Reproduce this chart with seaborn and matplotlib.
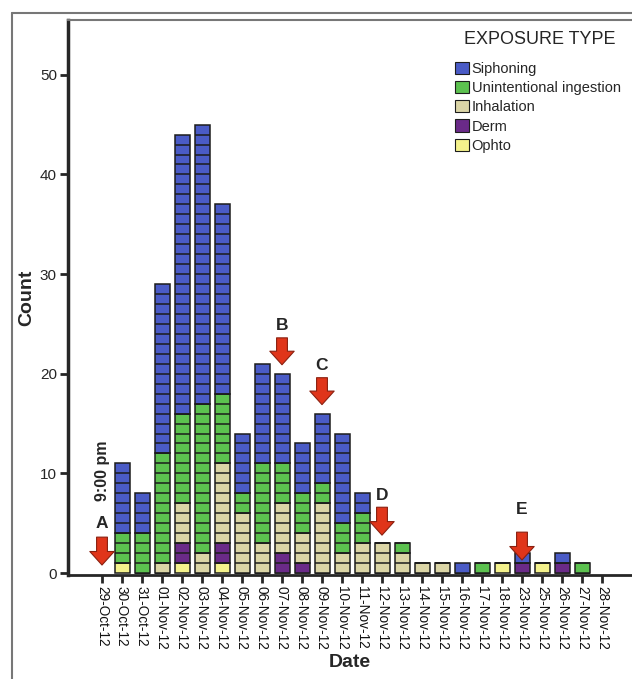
import numpy as np
import pandas as pd
import matplotlib
matplotlib.use("Agg")
import matplotlib.pyplot as plt
from matplotlib.patches import Patch
from matplotlib.lines import Line2D
import seaborn as sns

dates = ['29-Oct-12', '30-Oct-12', '31-Oct-12', '01-Nov-12', '02-Nov-12', '03-Nov-12',
         '04-Nov-12', '05-Nov-12', '06-Nov-12', '07-Nov-12', '08-Nov-12', '09-Nov-12',
         '10-Nov-12', '11-Nov-12', '12-Nov-12', '13-Nov-12', '14-Nov-12', '15-Nov-12',
         '16-Nov-12', '17-Nov-12', '18-Nov-12', '23-Nov-12', '25-Nov-12', '26-Nov-12',
         '27-Nov-12', '28-Nov-12']

siphoning     = [0, 7, 4, 17, 28, 28, 19, 6, 10, 9, 5, 7, 9, 2, 0, 0, 0, 0, 1, 0, 0, 1, 0, 1, 0, 0]
unintentional = [0, 3, 4, 11, 9, 15, 7, 2, 8, 4, 4, 2, 3, 3, 0, 1, 0, 0, 0, 1, 0, 0, 0, 0, 1, 0]
inhalation    = [0, 0, 0, 1, 4, 2, 8, 6, 3, 5, 3, 7, 2, 3, 3, 2, 1, 1, 0, 0, 0, 0, 0, 0, 0, 0]
derm          = [0, 0, 0, 0, 2, 0, 2, 0, 0, 2, 1, 0, 0, 0, 0, 0, 0, 0, 0, 0, 0, 1, 0, 1, 0, 0]
ophto         = [0, 1, 0, 0, 1, 0, 1, 0, 0, 0, 0, 0, 0, 0, 0, 0, 0, 0, 0, 0, 1, 0, 1, 0, 0, 0]

types = ['Siphoning', 'Unintentional ingestion', 'Inhalation', 'Derm', 'Ophto']
colors = ['#4a5bc6', '#5cc14f', '#dbd5a6', '#6a2a88', '#f4f28c']

# events marked with arrows: (label, date, arrow tail, arrow tip, letter y)
events = [('A', '29-Oct-12', 3.6, 0.8, 5.0),
          ('B', '07-Nov-12', 23.6, 20.9, 24.8),
          ('C', '09-Nov-12', 19.6, 16.9, 20.8),
          ('D', '12-Nov-12', 6.6, 3.8, 7.8),
          ('E', '23-Nov-12', 4.1, 1.3, 6.4)]

sns.set_style("ticks")
plt.rcParams['font.family'] = ['Liberation Sans', 'DejaVu Sans']

# long table, one row per date and type with the count as weight
series = [siphoning, unintentional, inhalation, derm, ophto]
rows = []
for t, vals in zip(types, series):
    for i, v in enumerate(vals):
        if v > 0:
            rows.append({'pos': i, 'type': t, 'n': v})
df = pd.DataFrame(rows)
totals = np.sum(np.array(series), axis=0)

fig = plt.figure(figsize=(6.32, 6.79), dpi=100)
ax = fig.add_axes([68 / 632, 1 - 575 / 679, 1 - 68 / 632, (575 - 20) / 679])

bw = 0.75
sns.histplot(data=df, x='pos', weights='n', hue='type', hue_order=types,
             palette=dict(zip(types, colors)), multiple='stack', discrete=True,
             shrink=bw, alpha=1, edgecolor='#1c1c1c', linewidth=1.1,
             legend=False, ax=ax)

# one box per case: separator lines inside each stack
xs, y = [], []
for i, t in enumerate(totals):
    for k in range(1, int(t)):
        xs.append(i)
        y.append(k)
xs = np.array(xs)
ax.hlines(y, xs - bw / 2, xs + bw / 2, colors='#1c1c1c', linewidth=1.1, zorder=3)

ax.set_xlim(-1.7, 26.5)
ax.set_ylim(-0.2, 55.5)
ax.set_xticks(range(len(dates)))
ax.set_xticklabels(dates, rotation=-90, fontsize=9.8, color='#111111')
ax.set_yticks([0, 10, 20, 30, 40, 50])
ax.tick_params(axis='y', labelsize=11, length=6, width=2, pad=2)
ax.tick_params(axis='x', length=6, width=2, pad=2)
ax.set_xlabel('Date', fontsize=14, fontweight='bold', labelpad=3)
ax.set_ylabel('Count', fontsize=14, fontweight='bold', labelpad=3)

ax.spines['left'].set_linewidth(2.5)
ax.spines['bottom'].set_linewidth(2.0)
ax.spines['top'].set_color('#777777')
ax.spines['top'].set_linewidth(1.5)
ax.spines['right'].set_visible(False)

for lab, d, tail, tip, ly in events:
    x = dates.index(d)
    ax.annotate('', xy=(x, tip), xytext=(x, tail),
                arrowprops=dict(arrowstyle='simple,head_length=0.75,head_width=1.35,tail_width=0.6',
                                fc='#e0351a', ec='#8a2010', lw=0.8, mutation_scale=13,
                                shrinkA=0, shrinkB=0))
    ax.text(x, ly, lab, ha='center', va='center', fontsize=12.5, fontweight='bold')

ax.text(0, 10.3, '9:00 pm', rotation=90, ha='center', va='center',
        fontsize=11.5, fontweight='bold')

handles = [Patch(facecolor=c, edgecolor='#1c1c1c', linewidth=0.8) for c in colors]
leg = ax.legend(handles, types, loc='upper right',
                bbox_to_anchor=(0.99, 0.935), frameon=False, fontsize=10.5,
                handlelength=0.9, handleheight=0.9, borderaxespad=0,
                handletextpad=0.2, labelspacing=0.35)
fig.text(615 / 632, 1 - 40 / 679, 'EXPOSURE TYPE', ha='right', va='center', fontsize=13)

# outer frame lines of the figure
fig.add_artist(Line2D([12 / 632, 12 / 632], [0, 1 - 13 / 679], color='#777777', lw=1.5))
fig.add_artist(Line2D([12 / 632, 1], [1 - 13 / 679, 1 - 13 / 679], color='#777777', lw=1.5))

fig.savefig('out.png', dpi=100)
